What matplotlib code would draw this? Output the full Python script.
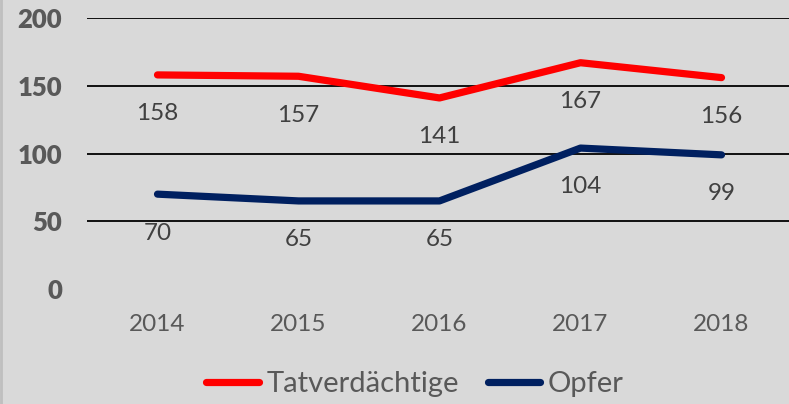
import numpy as np
import matplotlib.pyplot as plt
from matplotlib.lines import Line2D

years = ['2014', '2015', '2016', '2017', '2018']
tatverdaechtige = [158, 157, 141, 167, 156]
opfer = [70, 65, 65, 104, 99]
yticks = [0, 50, 100, 150, 200]

plt.rcParams['font.family'] = ['Lato', 'DejaVu Sans']
bg = '#d9d9d9'

fig = plt.figure(figsize=(7.89, 4.04), dpi=100, facecolor=bg)
ax = fig.add_axes([87/789, (404-289)/404, (789-87)/789, (289-18)/404])
ax.set_facecolor(bg)

x = np.arange(len(years))
ax.plot(x, tatverdaechtige, color='#ff0000', lw=5.2, solid_capstyle='round',
        solid_joinstyle='round', zorder=3)
ax.plot(x, opfer, color='#002060', lw=5.2, solid_capstyle='round',
        solid_joinstyle='round', zorder=3)

for xi, v in zip(x, tatverdaechtige):
    ax.annotate(str(v), (xi, v), xytext=(0, -28), textcoords='offset points',
                ha='center', va='center', fontsize=17.5, color='#404040')
for xi, v in zip(x, opfer):
    ax.annotate(str(v), (xi, v), xytext=(0, -28), textcoords='offset points',
                ha='center', va='center', fontsize=17.5, color='#404040')

ax.set_ylim(0, 200)
ax.set_xlim(-0.5, 4.5 - 3/141)
ax.set_yticks(yticks)
ax.set_yticklabels([str(t) for t in yticks], fontweight='heavy', fontsize=18.5,
                   color='#595959')
ax.set_xticks(x)
ax.set_xticklabels(years, fontsize=17.5, color='#595959')
ax.tick_params(axis='both', length=0)
ax.tick_params(axis='y', pad=18)
ax.tick_params(axis='x', pad=18)
for t in yticks[1:]:
    ax.axhline(t, color='black', lw=1.3, zorder=1)
for s in ax.spines.values():
    s.set_visible(False)

handles = [Line2D([], [], color='#ff0000', lw=5.2, solid_capstyle='round'),
           Line2D([], [], color='#002060', lw=5.2, solid_capstyle='round')]
fig.legend(handles, ['Tatverdächtige', 'Opfer'], loc='center',
           bbox_to_anchor=(415/789, (404-384)/404), ncol=2, frameon=False,
           fontsize=21, labelcolor='#595959', handlelength=1.8,
           handletextpad=0.25, columnspacing=1.0)

fig.add_artist(Line2D([0.001, 0.001], [0, 1], color='#bfbfbf', lw=2,
                      transform=fig.transFigure))

fig.savefig('out.png', dpi=100, facecolor=bg)
